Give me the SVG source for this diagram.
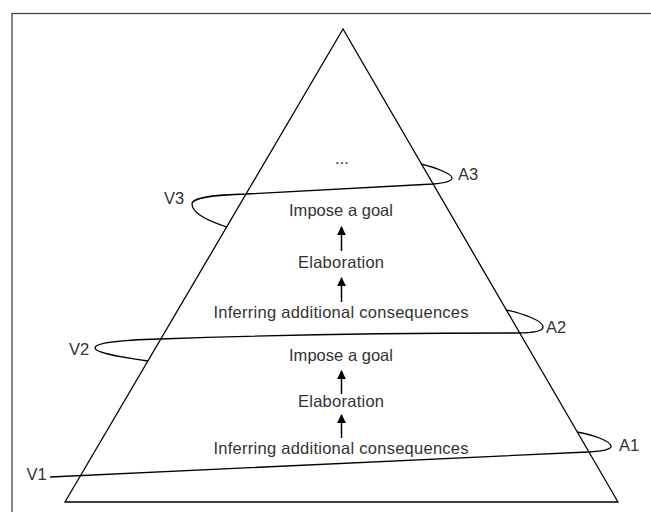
<svg xmlns="http://www.w3.org/2000/svg" width="651" height="512" viewBox="0 0 651 512">
<style>
.t{font-family:"Liberation Sans",Arial,sans-serif;font-size:16.5px;fill:#333}
.c{text-anchor:middle}
.ln{fill:none;stroke:#000;stroke-width:1.3}
.ar{stroke:#000;stroke-width:1.5}
</style>
<defs>
<marker id="ah" viewBox="0 0 10 10" refX="9" refY="5" markerWidth="6" markerHeight="6" orient="auto" markerUnits="strokeWidth">
<path d="M0,0 L10,5 L0,10 z" fill="#000"/>
</marker>
</defs>
<rect x="0" y="0" width="651" height="512" fill="#fff"/>
<rect x="12" y="13.5" width="680" height="540" fill="none" stroke="#444" stroke-width="1.3"/>
<g id="pyramid">
<polygon class="ln" points="343,29 65,502 618,502"/>
</g>
<g id="spirals">
<path class="ln" d="M50,477 L588,452 C604,451.3 612,449 611,446 C610,441 594,435 577,432"/>
<path class="ln" d="M148,361 C118,357 95,352 95,348 C95,343 120,340 160,339 C300,334 420,333 517,333 C533,333 543,331 543,327 C543,321 525,314 506,310"/>
<path class="ln" d="M227,227 C205,220 192,212 192,204 C192,197 215,195 247,194 C330,190 400,186 433,184 C445,183 452,181 452,178 C452,174 437,168 421,164"/>
</g>
<g id="labels">
<text class="t" x="26.5" y="480">V1</text>
<text class="t" x="69" y="355">V2</text>
<text class="t" x="164" y="203.5">V3</text>
<text class="t" x="619" y="451">A1</text>
<text class="t" x="546" y="333">A2</text>
<text class="t" x="458" y="180">A3</text>
</g>
<g id="n-dots"><text class="t c" x="342" y="164">...</text></g>
<g id="n-goal2"><text class="t c" x="341" y="216" textLength="104">Impose a goal</text></g>
<g id="n-elab2"><text class="t c" x="341" y="268" textLength="86">Elaboration</text></g>
<g id="n-infer2"><text class="t c" x="341" y="318" textLength="255">Inferring additional consequences</text></g>
<g id="n-goal1"><text class="t c" x="341" y="361" textLength="104">Impose a goal</text></g>
<g id="n-elab1"><text class="t c" x="341" y="407" textLength="86">Elaboration</text></g>
<g id="n-infer1"><text class="t c" x="341" y="454" textLength="255">Inferring additional consequences</text></g>
<g id="connectors">
<line class="ar" x1="341.5" y1="251" x2="341.5" y2="227" marker-end="url(#ah)"/>
<line class="ar" x1="341.5" y1="302" x2="341.5" y2="278" marker-end="url(#ah)"/>
<line class="ar" x1="341.5" y1="394" x2="341.5" y2="371" marker-end="url(#ah)"/>
<line class="ar" x1="341.5" y1="438" x2="341.5" y2="415" marker-end="url(#ah)"/>
</g>
</svg>
